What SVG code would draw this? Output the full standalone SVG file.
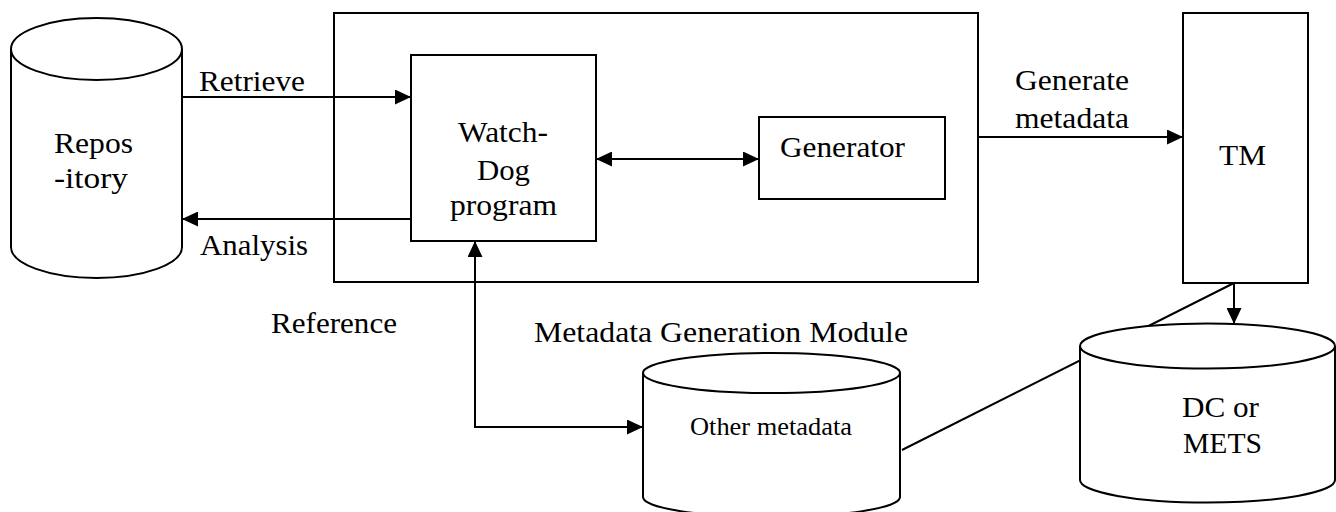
<svg xmlns="http://www.w3.org/2000/svg" width="1336" height="512" viewBox="0 0 1336 512" font-family="Liberation Serif, Times New Roman, serif">
<defs>
<style>
.s{fill:#fff;stroke:#000;stroke-width:2}
.n{fill:none;stroke:#000;stroke-width:2}
.c{fill:none;stroke:#000;stroke-width:2}
.t{font-size:30px;fill:#000}
.sm{font-size:25px}
</style>
<marker id="ah" viewBox="0 0 16 15" refX="16" refY="7.5" markerWidth="16" markerHeight="15" markerUnits="userSpaceOnUse" orient="auto-start-reverse">
<path d="M0,0 L16,7.5 L0,15 z" fill="#000"/>
</marker>
</defs>
<rect width="1336" height="512" fill="#fff"/>

<g id="module">
<rect class="n" x="334" y="13" width="644" height="269"/>
</g>

<g id="repository">
<path class="s" d="M11,49 A85.5,31 0 0,1 182,49 L182,247 A85.5,31 0 0,1 11,247 Z"/>
<path class="n" d="M11,49 A85.5,31 0 0,0 182,49"/>
<text class="t" x="54" y="153" textLength="79" lengthAdjust="spacingAndGlyphs">Repos</text>
<text class="t" x="54" y="188" textLength="74" lengthAdjust="spacingAndGlyphs">-itory</text>
</g>

<g id="watchdog">
<rect class="s" x="411" y="55" width="185" height="186"/>
<text class="t" x="458" y="142" textLength="90" lengthAdjust="spacingAndGlyphs">Watch-</text>
<text class="t" x="477" y="180" textLength="53" lengthAdjust="spacingAndGlyphs">Dog</text>
<text class="t" x="450" y="215" textLength="107" lengthAdjust="spacingAndGlyphs">program</text>
</g>

<g id="generator">
<rect class="s" x="759" y="117" width="186" height="82"/>
<text class="t" x="780" y="157" textLength="125" lengthAdjust="spacingAndGlyphs">Generator</text>
</g>

<g id="tm">
<rect class="s" x="1183" y="13" width="125" height="270"/>
<text class="t" x="1219" y="165" textLength="47" lengthAdjust="spacingAndGlyphs">TM</text>
</g>

<g id="connectors">
<line class="c" x1="182" y1="97" x2="411" y2="97" marker-end="url(#ah)"/>
<line class="c" x1="411" y1="219" x2="182" y2="219" marker-end="url(#ah)"/>
<line class="c" x1="596" y1="159" x2="759" y2="159" marker-start="url(#ah)" marker-end="url(#ah)"/>
<line class="c" x1="978" y1="137" x2="1183" y2="137" marker-end="url(#ah)"/>
<path class="c" d="M475,241 L475,427 L643,427" marker-start="url(#ah)" marker-end="url(#ah)"/>
<line class="c" x1="1234" y1="283" x2="1234" y2="324" marker-end="url(#ah)"/>
<line class="c" x1="1234" y1="283" x2="902" y2="450"/>
</g>

<g id="other-metadata">
<path class="s" d="M643,373 A128.5,20 0 0,1 900,373 L900,497 A128.5,20 0 0,1 643,497 Z"/>
<path class="n" d="M643,373 A128.5,20 0 0,0 900,373"/>
<text class="t sm" x="690" y="435" textLength="162" lengthAdjust="spacingAndGlyphs">Other metadata</text>
</g>

<g id="dc-mets">
<path class="s" d="M1080,346 A127.5,22.5 0 0,1 1335,346 L1335,480 A127.5,22.5 0 0,1 1080,480 Z"/>
<path class="n" d="M1080,346 A127.5,22.5 0 0,0 1335,346"/>
<text class="t" x="1182" y="417" textLength="77" lengthAdjust="spacingAndGlyphs">DC or</text>
<text class="t" x="1183" y="453" textLength="79" lengthAdjust="spacingAndGlyphs">METS</text>
</g>

<g id="labels">
<text class="t" x="199" y="91" textLength="106" lengthAdjust="spacingAndGlyphs">Retrieve</text>
<text class="t" x="200" y="255" textLength="108" lengthAdjust="spacingAndGlyphs">Analysis</text>
<text class="t" x="1015" y="90" textLength="114" lengthAdjust="spacingAndGlyphs">Generate</text>
<text class="t" x="1015" y="128" textLength="114" lengthAdjust="spacingAndGlyphs">metadata</text>
<text class="t" x="271" y="333" textLength="126" lengthAdjust="spacingAndGlyphs">Reference</text>
<text class="t" x="534" y="342" textLength="374" lengthAdjust="spacingAndGlyphs">Metadata Generation Module</text>
</g>
</svg>
